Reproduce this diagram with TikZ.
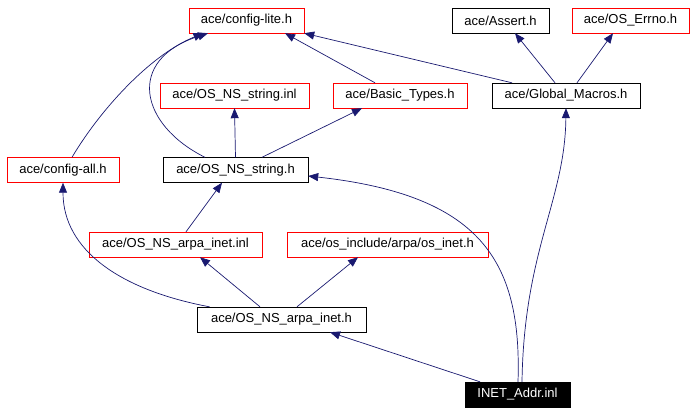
\documentclass[tikz,border=0pt]{standalone}
\usepackage{fontspec}
\setmainfont{Liberation Sans}
\usepackage{tikz}
\usetikzlibrary{arrows.meta}
\definecolor{edgeblue}{HTML}{191970}

\begin{document}
\begin{tikzpicture}[x=1pt,y=-1pt,
    file/.style={draw=black,rectangle,inner sep=0pt,minimum height=25pt,font=\fontsize{13}{15}\selectfont},
    missing/.style={file,draw=red},
    current/.style={file,fill=black,text=white},
    incl/.style={edgeblue,line width=0.7pt,-{Triangle[length=10pt,width=8pt]}}]
    \useasboundingbox (0,0) rectangle (696,413);
%                    Files
    \node[missing,minimum width=115pt] (cfglite) at (246.5,20.5) {ace/config-lite.h};
    \node[file,minimum width=97pt] (assert) at (500.5,20.5) {ace/Assert.h};
    \node[missing,minimum width=117pt] (errno) at (630.5,20.5) {ace/OS\_Errno.h};
    \node[missing,minimum width=149pt] (strinl) at (234.5,95.5) {ace/OS\_NS\_string.inl};
    \node[missing,minimum width=134pt] (basic) at (400,95.5) {ace/Basic\_Types.h};
    \node[file,minimum width=148pt] (gm) at (566,95.5) {ace/Global\_Macros.h};
    \node[missing,minimum width=112pt] (cfgall) at (63,170) {ace/config-all.h};
    \node[file,minimum width=145pt] (strh) at (235.5,170) {ace/OS\_NS\_string.h};
    \node[missing,minimum width=173pt] (arpainl) at (175.5,244.5) {ace/OS\_NS\_arpa\_inet.inl};
    \node[missing,minimum width=201pt] (osinet) at (387.5,244.5) {ace/os\_include/arpa/os\_inet.h};
    \node[file,minimum width=169pt] (arpah) at (281.5,319.5) {ace/OS\_NS\_arpa\_inet.h};
    \node[current,minimum width=105pt] (inet) at (517.5,394.5) {INET\_Addr.inl};

%                    Includes
    \draw[incl] ([xshift=-72pt]arpah.north) .. controls (120,290) and (63,250) .. (cfgall.south);
    \draw[incl] ([xshift=-21.5pt]arpah.north) -- ([xshift=24.5pt]arpainl.south);
    \draw[incl] ([xshift=15.5pt]arpah.north) -- ([xshift=-29.5pt]osinet.south);
    \draw[incl] ([xshift=10.5pt]arpainl.north) -- ([xshift=-13.5pt]strh.south);
    \draw[incl] ([xshift=-37.5pt]inet.north) -- ([xshift=48.5pt]arpah.south);
    \draw[incl] ([xshift=0.5pt]inet.north) .. controls (522,260) and (480,195) .. ([yshift=-6pt]strh.east);
    \draw[incl] ([xshift=4.5pt]inet.north) .. controls (524,250) and (565,200) .. (gm.south);
    \draw[incl] (strh.north) -- (strinl.south);
    \draw[incl] ([xshift=26.5pt]strh.north) -- ([xshift=-38pt]basic.south);
    \draw[incl] ([xshift=-30.5pt]strh.north) .. controls (140,125) and (125,60) .. ([xshift=-38.5pt]cfglite.south);
    \draw[incl] ([xshift=9pt]cfgall.north) .. controls (100,110) and (150,55) .. ([xshift=-43pt]cfglite.south);
    \draw[incl] ([xshift=-25pt]basic.north) -- ([xshift=38.5pt]cfglite.south);
    \draw[incl] ([xshift=-54pt]gm.north) -- (cfglite.south east);
    \draw[incl] ([xshift=-11pt]gm.north) -- ([xshift=14.5pt]assert.south);
    \draw[incl] ([xshift=11pt]gm.north) -- ([xshift=-17.5pt]errno.south);
\end{tikzpicture}
\end{document}
